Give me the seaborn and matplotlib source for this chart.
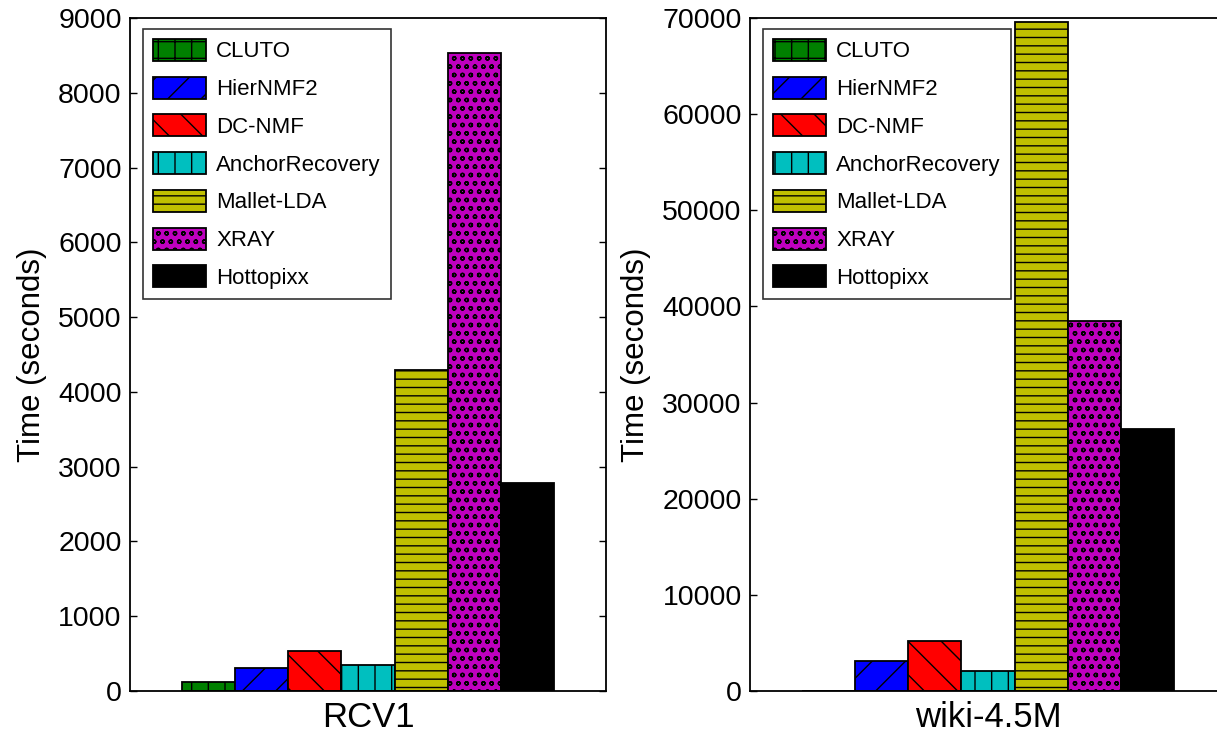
import matplotlib
matplotlib.use("Agg")
import matplotlib.pyplot as plt
import seaborn as sns
import pandas as pd
from matplotlib.patches import Patch

methods = ["CLUTO", "HierNMF2", "DC-NMF", "AnchorRecovery", "Mallet-LDA", "XRAY", "Hottopixx"]
rcv1_times = [115, 302, 539, 348, 4290, 8530, 2780]
wiki_times = [50, 3120, 5160, 2040, 69600, 38490, 27200]
datasets = ["RCV1", "wiki-4.5M"]
rcv1_yticks = [0, 1000, 2000, 3000, 4000, 5000, 6000, 7000, 8000, 9000]
wiki_yticks = [0, 10000, 20000, 30000, 40000, 50000, 60000, 70000]

colors = ["#008000", "#0000ff", "#ff0000", "#00bfbf", "#bfbf00", "#bf00bf", "#000000"]
hatches = ["+", "/", "\\", "|", "--", "oo", ""]

sns.set_theme(style="white")
plt.rcParams["font.family"] = ["Liberation Sans", "DejaVu Sans"]
plt.rcParams["hatch.linewidth"] = 1.0
plt.rcParams["hatch.color"] = "black"
plt.rcParams["text.color"] = "black"
plt.rcParams["axes.labelcolor"] = "black"

fig = plt.figure(figsize=(12.17, 7.33), dpi=100)
W, H = 1217, 733
ax1 = fig.add_axes([130 / W, (H - 691) / H, 476 / W, 673 / H])
ax2 = fig.add_axes([750 / W, (H - 691) / H, 476 / W, 673 / H])

frames = [
    pd.DataFrame({"dataset": datasets[0], "method": methods, "time": rcv1_times}),
    pd.DataFrame({"dataset": datasets[1], "method": methods, "time": wiki_times}),
]

for ax, df, yt in [(ax1, frames[0], rcv1_yticks), (ax2, frames[1], wiki_yticks)]:
    sns.barplot(data=df, x="dataset", y="time", hue="method", hue_order=methods,
                palette=colors, width=0.78, edgecolor="black", linewidth=1.3,
                saturation=1, legend=False, ax=ax)
    for cont, h in zip(ax.containers, hatches):
        for p in cont.patches:
            p.set_hatch(h)
    ax.set_xlim(-0.5, 0.5)
    ax.set_ylim(yt[0], yt[-1])
    ax.set_yticks(yt)
    ax.set_yticklabels([str(v) for v in yt])
    ax.set_xlabel("")
    ax.set_ylabel("Time (seconds)", fontsize=22.5, labelpad=8, color="black")
    ax.tick_params(axis="y", direction="in", length=5, width=1, left=True, right=True,
                   labelsize=20.5, pad=6, colors="black")
    ax.tick_params(axis="x", length=0, labelsize=25, pad=7, colors="black")
    for s in ax.spines.values():
        s.set_visible(True)
        s.set_color("black")
        s.set_linewidth(1.3)
    handles = [Patch(facecolor=c, edgecolor="black", hatch=h, linewidth=1.3, label=m)
               for c, h, m in zip(colors, hatches, methods)]
    leg = ax.legend(handles=handles, loc="upper left", bbox_to_anchor=(0.027, 0.984),
                    borderaxespad=0, fontsize=16, handlelength=2.4, handleheight=1.15,
                    labelspacing=0.64, handletextpad=0.45, borderpad=0.45,
                    fancybox=False, frameon=True, labelcolor="black")
    leg.get_frame().set_edgecolor("black")
    leg.get_frame().set_linewidth(1.2)

fig.savefig("out.png", dpi=100)
